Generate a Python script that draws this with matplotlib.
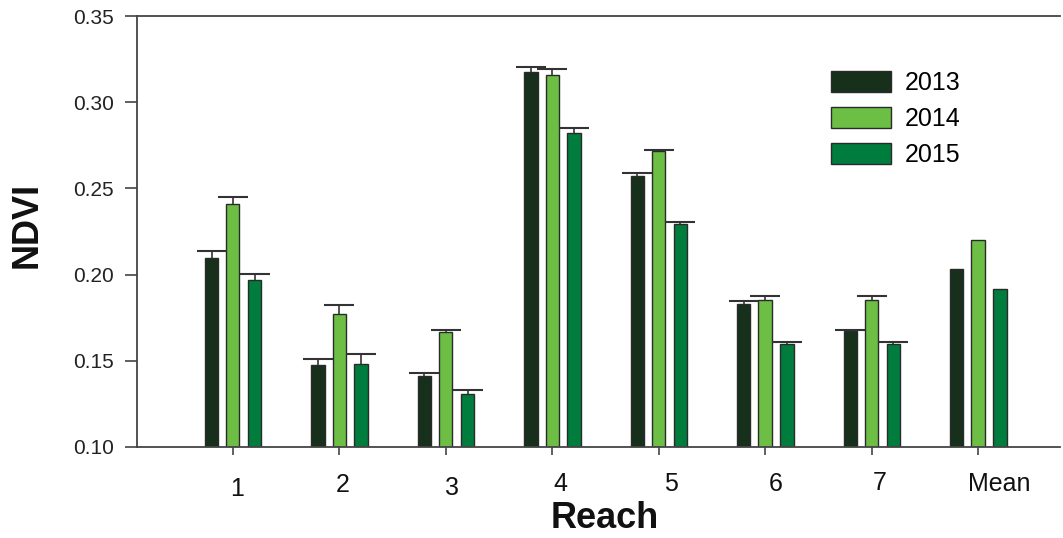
import matplotlib
matplotlib.use("Agg")
import matplotlib.pyplot as plt
import matplotlib.transforms as mtransforms
import numpy as np

plt.rcParams['font.family'] = ['Liberation Sans', 'DejaVu Sans']

categories = ['1', '2', '3', '4', '5', '6', '7', 'Mean']
years = ['2013', '2014', '2015']
ndvi_2013 = [0.2095, 0.1475, 0.1413, 0.3174, 0.2572, 0.1831, 0.1674, 0.2035]
ndvi_2014 = [0.2411, 0.1769, 0.1665, 0.3159, 0.2717, 0.1853, 0.1855, 0.2199]
ndvi_2015 = [0.1967, 0.1483, 0.1308, 0.2820, 0.2291, 0.1595, 0.1595, 0.1915]
err_2013 = [0.0039, 0.0037, 0.0017, 0.0031, 0.0015, 0.0014, 0.0004, 0.0]
err_2014 = [0.0039, 0.0053, 0.0013, 0.0031, 0.0006, 0.0021, 0.0019, 0.0]
err_2015 = [0.0035, 0.0054, 0.0022, 0.0029, 0.0013, 0.0015, 0.0015, 0.0]

colors = ['#17301B', '#6CBE45', '#007C3D']
values = [ndvi_2013, ndvi_2014, ndvi_2015]
errors = [err_2013, err_2014, err_2015]

fig = plt.figure(figsize=(10.63, 5.38), dpi=100)
ax = fig.add_axes([137/1063, 1 - 447/538, (1060-137)/1063, (447-16)/538])

x = np.arange(len(categories))
width = 0.125
offsets = [-0.2, 0.0, 0.205]
for vals, errs, col, off, yr in zip(values, errors, colors, offsets, years):
    ax.bar(x + off, vals, width, color=col, edgecolor='#2a2a2a', linewidth=1.0,
           label=yr, zorder=2)
    e = np.array(errs)
    mask = e > 0
    eb = ax.errorbar((x + off)[mask], np.array(vals)[mask],
                     yerr=[np.zeros(mask.sum()), e[mask]], fmt='none',
                     ecolor='#333333', elinewidth=1.2, capsize=10.5, capthick=1.5,
                     zorder=3)
    caps = eb[1]
    if len(caps) == 2:
        caps[0].set_visible(False)

ax.set_xlim(-0.9, 7.77)
ax.set_ylim(0.10, 0.35)
ax.set_yticks([0.10, 0.15, 0.20, 0.25, 0.30, 0.35])
ax.set_yticklabels(['0.10', '0.15', '0.20', '0.25', '0.30', '0.35'])
ax.set_xticks(x)
ax.set_xticklabels(categories)

for s in ['left', 'bottom', 'top']:
    ax.spines[s].set_color('#444444')
    ax.spines[s].set_linewidth(1.3)
ax.spines['right'].set_visible(False)

ax.tick_params(axis='y', direction='out', length=8.6, width=1.2, color='#444444',
               labelsize=15, pad=8, labelcolor='#222222')
ax.tick_params(axis='x', direction='out', length=6, width=1.2, color='#444444',
               labelsize=18, pad=12, labelcolor='#111111')

dx_px = [4, 3, 6, 8, 12, 11, 8, 21]
dy_px = [-5, -1, -4, 0, 0, 0, 1, 0]
for lab, dx, dy in zip(ax.get_xticklabels(), dx_px, dy_px):
    lab.set_transform(lab.get_transform() +
                      mtransforms.ScaledTranslation(dx/100, dy/100, fig.dpi_scale_trans))

fig.text(27/1063, 1 - 225/538, 'NDVI', rotation=90, fontsize=26, fontweight='bold',
         ha='center', va='center', color='#111111')
fig.text(605/1063, 1 - 519/538, 'Reach', fontsize=26, fontweight='bold',
         ha='center', va='center', color='#111111')

leg = ax.legend(loc='upper left', bbox_to_anchor=(831/1063, 1 - 71/538),
                bbox_transform=fig.transFigure, frameon=False, fontsize=18,
                handlelength=2.4, handleheight=0.88, handletextpad=0.55,
                labelspacing=0.48, borderpad=0, borderaxespad=0)
for h in leg.legend_handles:
    h.set_edgecolor('#2a2a2a')

fig.savefig('out.png', dpi=100)
